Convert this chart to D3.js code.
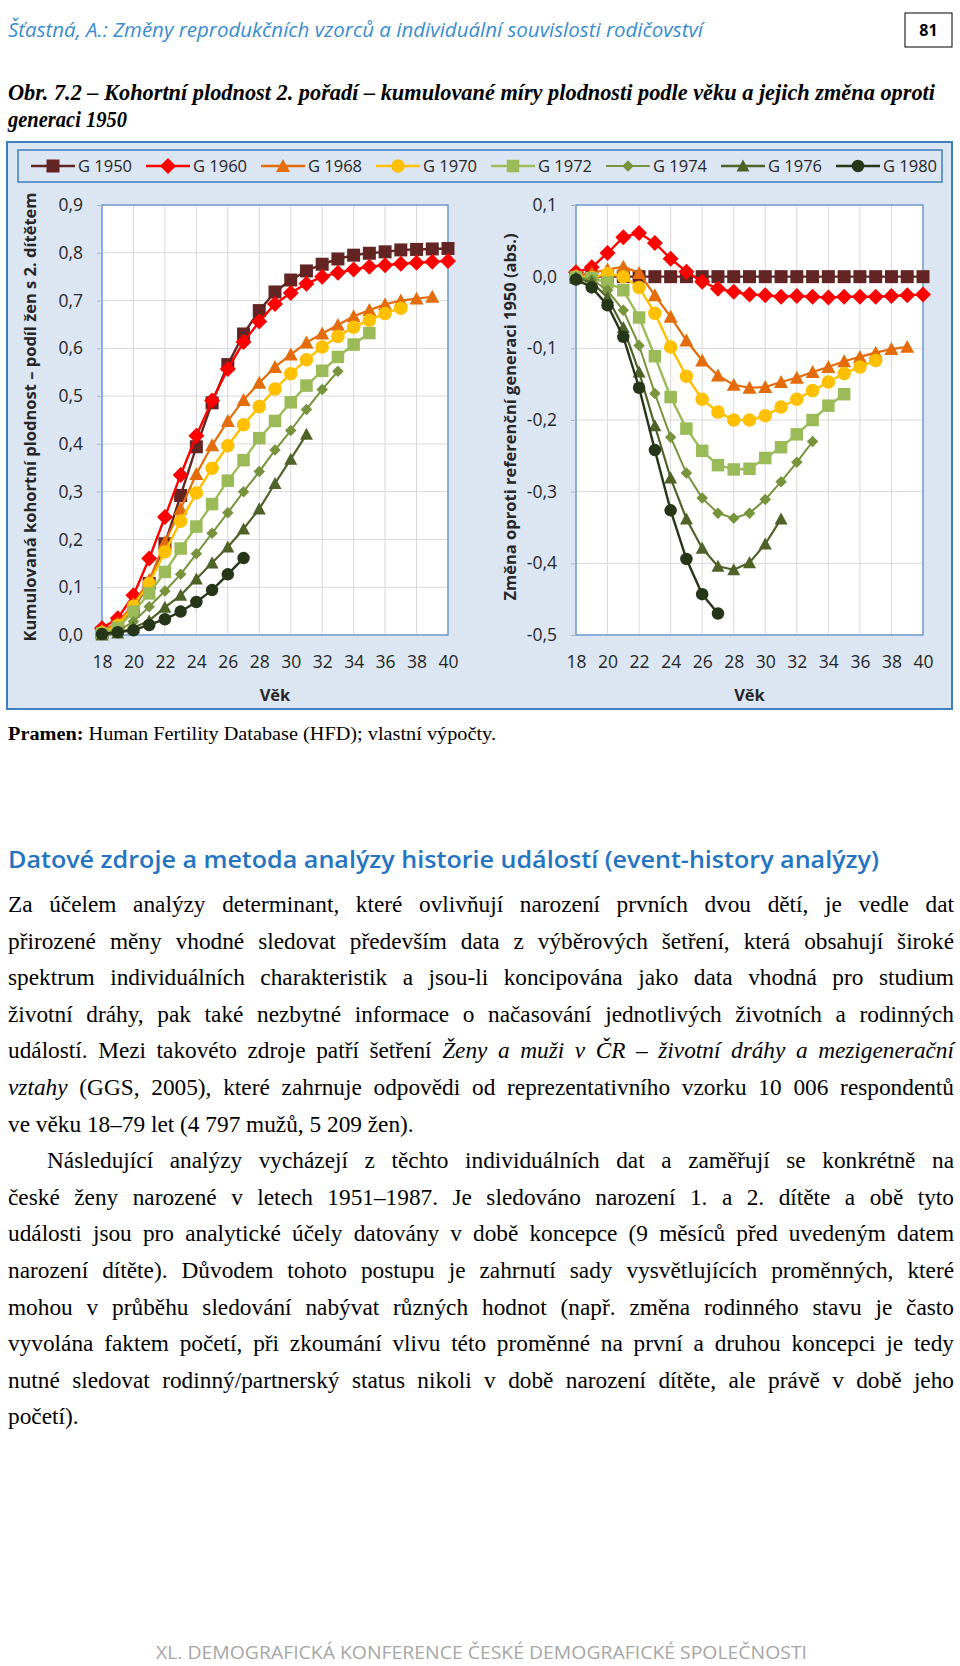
<!DOCTYPE html>
<html><head><meta charset="utf-8">
<script src="https://cdn.jsdelivr.net/npm/d3@7"></script>
<style>body{margin:0;background:#fff} svg{display:block}</style>
</head><body>
<svg id="c" width="960" height="1666"></svg>
<script>
// ---------- DATA ----------
const ages = [18,19,20,21,22,23,24,25,26,27,28,29,30,31,32,33,34,35,36,37,38,39,40];
const cohorts = ["G 1950","G 1960","G 1968","G 1970","G 1972","G 1974","G 1976","G 1980"];
const leftTicks = [0,0.1,0.2,0.3,0.4,0.5,0.6,0.7,0.8,0.9];
const rightTicks = [-0.5,-0.4,-0.3,-0.2,-0.1,0,0.1];
const xTicks = [18,20,22,24,26,28,30,32,34,36,38,40];

// cumulative second-order fertility (left panel), from age 18
const cum1950 = [0.005,0.018,0.055,0.108,0.191,0.292,0.394,0.486,0.566,0.630,0.679,0.718,0.743,0.762,0.776,0.787,0.795,0.799,0.802,0.806,0.807,0.808,0.809];
const cum1960 = [0.014,0.035,0.083,0.160,0.247,0.335,0.417,0.491,0.557,0.613,0.656,0.693,0.716,0.735,0.750,0.758,0.765,0.771,0.774,0.777,0.779,0.781,0.783];
const cum1968 = [0.010,0.025,0.065,0.115,0.194,0.264,0.337,0.397,0.448,0.492,0.528,0.561,0.587,0.612,0.631,0.649,0.667,0.680,0.692,0.700,0.704,0.708];
const cum1970 = [0.005,0.020,0.060,0.108,0.174,0.238,0.297,0.349,0.396,0.440,0.478,0.515,0.547,0.576,0.603,0.625,0.644,0.659,0.673,0.684];
const cum1972 = [0.003,0.015,0.049,0.087,0.132,0.181,0.227,0.274,0.323,0.366,0.412,0.448,0.487,0.522,0.553,0.582,0.608,0.632];
const cum1974 = [0.002,0.008,0.028,0.059,0.092,0.127,0.170,0.213,0.256,0.300,0.342,0.387,0.428,0.472,0.514,0.552];
const cum1976 = [0.000,0.004,0.015,0.030,0.058,0.083,0.117,0.151,0.184,0.222,0.264,0.317,0.368,0.420];
const cum1980 = [0.002,0.006,0.010,0.021,0.033,0.049,0.069,0.094,0.127,0.161];

// change vs. generation 1950 (right panel), from age 18
const diff1950 = [0,0,0,0,0,0,0,0,0,0,0,0,0,0,0,0,0,0,0,0,0,0,0];
const diff1960 = [0.006,0.013,0.033,0.055,0.061,0.047,0.025,0.007,-0.007,-0.017,-0.021,-0.025,-0.026,-0.028,-0.027,-0.028,-0.029,-0.028,-0.028,-0.028,-0.027,-0.026,-0.025];
const diff1968 = [0.002,0.005,0.010,0.014,0.005,-0.026,-0.056,-0.089,-0.117,-0.138,-0.151,-0.155,-0.154,-0.147,-0.141,-0.133,-0.126,-0.118,-0.112,-0.106,-0.101,-0.098];
const diff1970 = [0.000,-0.001,0.004,0.000,-0.015,-0.051,-0.098,-0.139,-0.171,-0.189,-0.200,-0.200,-0.194,-0.182,-0.171,-0.159,-0.147,-0.135,-0.126,-0.117];
const diff1972 = [-0.001,-0.002,-0.008,-0.019,-0.057,-0.111,-0.168,-0.212,-0.243,-0.263,-0.269,-0.268,-0.253,-0.238,-0.220,-0.200,-0.180,-0.164];
const diff1974 = [-0.001,-0.004,-0.019,-0.047,-0.096,-0.163,-0.224,-0.274,-0.309,-0.330,-0.337,-0.330,-0.311,-0.286,-0.259,-0.230];
const diff1976 = [-0.002,-0.008,-0.029,-0.071,-0.133,-0.208,-0.281,-0.338,-0.379,-0.404,-0.409,-0.399,-0.373,-0.338];
const diff1980 = [-0.004,-0.015,-0.040,-0.084,-0.155,-0.242,-0.326,-0.394,-0.443,-0.470];

const leftSeries = [cum1950,cum1960,cum1968,cum1970,cum1972,cum1974,cum1976,cum1980];
const rightSeries = [diff1950,diff1960,diff1968,diff1970,diff1972,diff1974,diff1976,diff1980];

// ---------- STYLES ----------
const styles = [
  {color:"#632523", marker:"square",   size:13,  lw:2.4},
  {color:"#ff0000", marker:"diamond",  size:16,  lw:2.4},
  {color:"#e46c0a", marker:"triangle", size:14,  lw:2.2},
  {color:"#ffc000", marker:"circle",   size:13.5,lw:2.4},
  {color:"#9bbb59", marker:"square",   size:12.5,lw:2.4},
  {color:"#77933c", marker:"diamond",  size:11.5,lw:2.0},
  {color:"#4f6228", marker:"triangle", size:13,  lw:2.2},
  {color:"#263619", marker:"circle",   size:12.5,lw:2.4}
];
function markerPath(type, s){
  const h = s/2;
  if(type==="square") return `M${-h},${-h}H${h}V${h}H${-h}Z`;
  if(type==="diamond") return `M0,${-h}L${h},0L0,${h}L${-h},0Z`;
  if(type==="triangle") return `M0,${-h}L${h},${h*0.85}L${-h},${h*0.85}Z`;
  const p = d3.path(); p.arc(0,0,h,0,2*Math.PI); return p.toString();
}
const fmt = v => (v<0?"-":"") + Math.abs(v).toFixed(1).replace(".",",");

const svg = d3.select("#c");
svg.append("rect").attr("width",960).attr("height",1666).attr("fill","#fff");

const chartFont = "'Open Sans', sans-serif";
const BG = "#dce6f2", BORDER = "#3f7fbf";

// outer chart box
svg.append("rect").attr("x",7).attr("y",142).attr("width",945).attr("height",567)
  .attr("fill",BG).attr("stroke",BORDER).attr("stroke-width",2);

// legend
svg.append("rect").attr("x",18).attr("y",150).attr("width",924).attr("height",32)
  .attr("fill",BG).attr("stroke",BORDER).attr("stroke-width",1.5);
const legX = d3.scaleLinear().domain([0,7]).range([53,858]);
cohorts.forEach((name,i)=>{
  const cx = legX(i), cy = 166, st = styles[i];
  const g = svg.append("g");
  g.append("line").attr("x1",cx-22).attr("x2",cx+22).attr("y1",cy).attr("y2",cy)
    .attr("stroke",st.color).attr("stroke-width",st.lw+0.2);
  g.append("path").attr("d",markerPath(st.marker,st.size)).attr("transform",`translate(${cx},${cy})`)
    .attr("fill",st.color);
  g.append("text").attr("x",cx+25).attr("y",cy).attr("dy","0.35em")
    .attr("font-family",chartFont).attr("font-size",16.5).attr("fill","#262626").text(name);
});

function panel(x, y, ticks, series, yTitle, titleX){
  const [x0,x1] = x.range(), [yb,yt] = y.range();
  const g = svg.append("g");
  g.append("rect").attr("x",x0).attr("y",yt).attr("width",x1-x0).attr("height",yb-yt).attr("fill","#fff");
  // gridlines
  g.selectAll(".hg").data(ticks).join("line")
    .attr("x1",x0).attr("x2",x1).attr("y1",d=>y(d)).attr("y2",d=>y(d))
    .attr("stroke","#d9d9d9").attr("stroke-width",1);
  g.selectAll(".vg").data(xTicks).join("line")
    .attr("x1",d=>x(d)).attr("x2",d=>x(d)).attr("y1",yt).attr("y2",yb)
    .attr("stroke","#d9d9d9").attr("stroke-width",1);
  // border
  g.append("rect").attr("x",x0).attr("y",yt).attr("width",x1-x0).attr("height",yb-yt)
    .attr("fill","none").attr("stroke","#6f9bd0").attr("stroke-width",1.5);
  // axes
  const ya = g.append("g").attr("transform",`translate(${x0},0)`)
    .call(d3.axisLeft(y).tickValues(ticks).tickFormat(fmt).tickSize(5).tickPadding(14));
  ya.select(".domain").remove();
  ya.selectAll(".tick line").attr("stroke","#9fb7d6");
  ya.selectAll("text").attr("font-family",chartFont).attr("font-size",17.5).attr("fill","#262626");
  const xa = g.append("g").attr("transform",`translate(0,${yb})`)
    .call(d3.axisBottom(x).tickValues(xTicks).tickFormat(d3.format("d")).tickSize(0).tickPadding(21));
  xa.select(".domain").remove();
  xa.selectAll("text").attr("font-family",chartFont).attr("font-size",17.5).attr("fill","#262626");
  g.append("text").attr("x",(x0+x1)/2).attr("y",695).attr("dy","0.35em").attr("text-anchor","middle")
    .attr("font-family",chartFont).attr("font-size",16.5).attr("font-weight","bold").attr("fill","#262626").text("Věk");
  g.append("text").attr("transform",`translate(${titleX},${(yt+yb)/2 - 3}) rotate(-90)`)
    .attr("dy","0.35em").attr("text-anchor","middle")
    .attr("font-family",chartFont).attr("font-size",16.5).attr("font-weight","bold").attr("fill","#262626").text(yTitle);
  // series
  series.forEach((vals,i)=>{
    const st = styles[i];
    const pts = vals.map((v,k)=>[ages[k],v]);
    g.append("path").attr("d",d3.line().x(d=>x(d[0])).y(d=>y(d[1]))(pts))
      .attr("fill","none").attr("stroke",st.color).attr("stroke-width",st.lw).attr("stroke-linejoin","round");
    g.append("g").selectAll("path").data(pts).join("path")
      .attr("d",markerPath(st.marker,st.size))
      .attr("transform",d=>`translate(${x(d[0])},${y(d[1])})`)
      .attr("fill",st.color);
  });
}
const xL = d3.scaleLinear().domain([18,40]).range([102,448]);
const yL = d3.scaleLinear().domain([0,0.9]).range([635,205]);
const xR = d3.scaleLinear().domain([18,40]).range([576,923]);
const yR = d3.scaleLinear().domain([-0.5,0.1]).range([635,205]);
panel(xL,yL,leftTicks,leftSeries,"Kumulovaná kohortní plodnost – podíl žen s 2. dítětem",30);
panel(xR,yR,rightTicks,rightSeries,"Změna oproti referenční generaci 1950 (abs.)",510);

// ---------- PAGE TEXT ----------
svg.append("text").attr("x",8).attr("y",37).attr("font-family","'Open Sans', sans-serif")
  .attr("font-style","italic").attr("font-size",20).attr("fill","#3a8dd0")
  .attr("textLength",695).attr("lengthAdjust","spacingAndGlyphs")
  .text("Šťastná, A.: Změny reprodukčních vzorců a individuální souvislosti rodičovství");
svg.append("rect").attr("x",905).attr("y",13).attr("width",47).attr("height",34)
  .attr("fill","#fff").attr("stroke","#000").attr("stroke-width",1);
svg.append("text").attr("x",928.5).attr("y",30).attr("dy","0.36em").attr("text-anchor","middle")
  .attr("font-family","'Open Sans', sans-serif").attr("font-weight","bold").attr("font-size",16).text("81");

const serif = "'Liberation Serif', 'Times New Roman', serif";
svg.append("text").attr("x",8).attr("y",100).attr("font-family",serif).attr("font-weight","bold")
  .attr("font-style","italic").attr("font-size",22.5).attr("textLength",927).attr("lengthAdjust","spacingAndGlyphs")
  .text("Obr. 7.2 – Kohortní plodnost 2. pořadí – kumulované míry plodnosti podle věku a jejich změna oproti");
svg.append("text").attr("x",8).attr("y",127).attr("font-family",serif).attr("font-weight","bold")
  .attr("font-style","italic").attr("font-size",22.5).attr("textLength",119).attr("lengthAdjust","spacingAndGlyphs")
  .text("generaci 1950");

const pr = svg.append("text").attr("x",8).attr("y",740).attr("font-family",serif).attr("font-size",18)
  .attr("textLength",488).attr("lengthAdjust","spacingAndGlyphs");
pr.append("tspan").attr("font-weight","bold").text("Pramen:");
pr.append("tspan").text(" Human Fertility Database (HFD); vlastní výpočty.");

svg.append("text").attr("x",8).attr("y",868).attr("font-family","'Open Sans', sans-serif")
  .attr("font-size",23).attr("font-weight",600).attr("fill","#2474c2").attr("textLength",871).attr("lengthAdjust","spacingAndGlyphs")
  .text("Datové zdroje a metoda analýzy historie událostí (event-history analýzy)");

const body = [
  {x:8, j:true, s:[["Za účelem analýzy determinant, které ovlivňují narození prvních dvou dětí, je vedle dat",0]]},
  {x:8, j:true, s:[["přirozené měny vhodné sledovat především data z výběrových šetření, která obsahují široké",0]]},
  {x:8, j:true, s:[["spektrum individuálních charakteristik a jsou-li koncipována jako data vhodná pro studium",0]]},
  {x:8, j:true, s:[["životní dráhy, pak také nezbytné informace o načasování jednotlivých životních a rodinných",0]]},
  {x:8, j:true, s:[["událostí. Mezi takovéto zdroje patří šetření ",0],["Ženy a muži v ČR – životní dráhy a mezigenerační",1]]},
  {x:8, j:true, s:[["vztahy",1],[" (GGS, 2005), které zahrnuje odpovědi od reprezentativního vzorku 10 006 respondentů",0]]},
  {x:8, j:false,s:[["ve věku 18–79 let (4 797 mužů, 5 209 žen).",0]]},
  {x:47,j:true, s:[["Následující analýzy vycházejí z těchto individuálních dat a zaměřují se konkrétně na",0]]},
  {x:8, j:true, s:[["české ženy narozené v letech 1951–1987. Je sledováno narození 1. a 2. dítěte a obě tyto",0]]},
  {x:8, j:true, s:[["události jsou pro analytické účely datovány v době koncepce (9 měsíců před uvedeným datem",0]]},
  {x:8, j:true, s:[["narození dítěte). Důvodem tohoto postupu je zahrnutí sady vysvětlujících proměnných, které",0]]},
  {x:8, j:true, s:[["mohou v průběhu sledování nabývat různých hodnot (např. změna rodinného stavu je často",0]]},
  {x:8, j:true, s:[["vyvolána faktem početí, při zkoumání vlivu této proměnné na první a druhou koncepci je tedy",0]]},
  {x:8, j:true, s:[["nutné sledovat rodinný/partnerský status nikoli v době narození dítěte, ale právě v době jeho",0]]},
  {x:8, j:false,s:[["početí).",0]]}
];
const RIGHT = 954;
body.forEach((ln,i)=>{
  const t = svg.append("text").attr("x",ln.x).attr("y",912+i*36.6)
    .attr("font-family",serif).attr("font-size",23.3).attr("fill","#000").style("white-space","pre");
  ln.s.forEach(([txt,it])=>t.append("tspan").attr("font-style",it?"italic":null).text(txt));
  if(ln.j){
    const w = t.node().getComputedTextLength();
    const n = ln.s.map(s=>s[0]).join("").split(" ").length-1;
    t.style("word-spacing", ((RIGHT-ln.x)-w)/n + "px");
  }
});

svg.append("text").attr("x",156).attr("y",1659).attr("font-family","'Open Sans', sans-serif")
  .attr("font-size",18.5).attr("fill","#a6a6a6").attr("textLength",651).attr("lengthAdjust","spacingAndGlyphs")
  .text("XL. DEMOGRAFICKÁ KONFERENCE ČESKÉ DEMOGRAFICKÉ SPOLEČNOSTI");
</script>
</body></html>
